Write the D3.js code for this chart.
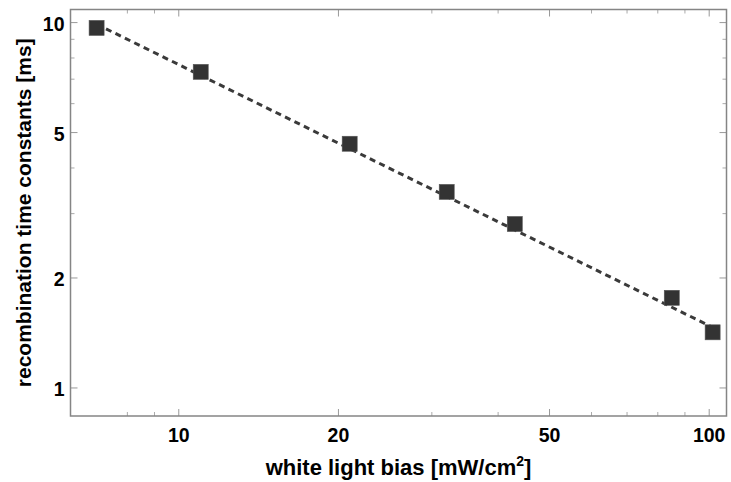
<!DOCTYPE html>
<html>
<head>
<meta charset="utf-8">
<script src="https://cdn.jsdelivr.net/npm/d3@7"></script>
<style>
  body { margin: 0; background: #fff; }
  text { font-family: "Liberation Sans", Arial, sans-serif; font-weight: bold; fill: #000; }
</style>
</head>
<body>
<div id="chart"></div>
<script>
// measured points (light bias in mW/cm2, time constant in ms)
var biasValues = [7, 11, 21, 32, 43, 85, 101.5];
var tauValues = [9.67, 7.33, 4.66, 3.44, 2.81, 1.765, 1.42];

// power-law fit, end points
var fitX = [7, 102];
var fitY = [9.9, 1.46];

var xMajorTicks = [10, 20, 50, 100];
var xMinorTicks = [8, 9, 30, 40, 60, 70, 80, 90];
var yMajorTicks = [1, 2, 5, 10];
var yMinorTicks = [3, 4, 6, 7, 8, 9];

var width = 731,
    height = 482;
var margin = { top: 9.5, right: 4.5, bottom: 66, left: 70.5 };
var plotW = width - margin.left - margin.right,
    plotH = height - margin.top - margin.bottom;

var svg = d3.select("#chart")
  .append("svg")
    .attr("width", width)
    .attr("height", height);

var x = d3.scaleLog()
  .domain([6.25, 107.8])
  .range([0, plotW]);
var y = d3.scaleLog()
  .domain([0.838, 10.86])
  .range([plotH, 0]);

var g = svg.append("g")
  .attr("transform", "translate(" + margin.left + "," + margin.top + ")");

var frameColor = "#858585";

// ticks, drawn inward on all four sides
function drawTicks(values, len, color) {
  values.forEach(function(v) {
    var px = x(v);
    g.append("line").attr("x1", px).attr("x2", px).attr("y1", plotH).attr("y2", plotH - len)
      .attr("stroke", color).attr("stroke-width", 1);
    g.append("line").attr("x1", px).attr("x2", px).attr("y1", 0).attr("y2", len)
      .attr("stroke", color).attr("stroke-width", 1);
  });
}
function drawYTicks(values, len, color) {
  values.forEach(function(v) {
    var py = y(v);
    g.append("line").attr("x1", 0).attr("x2", len).attr("y1", py).attr("y2", py)
      .attr("stroke", color).attr("stroke-width", 1);
    g.append("line").attr("x1", plotW).attr("x2", plotW - len).attr("y1", py).attr("y2", py)
      .attr("stroke", color).attr("stroke-width", 1);
  });
}
drawTicks(xMajorTicks, 7, "#999");
drawTicks(xMinorTicks, 4, "#aaa");
drawYTicks(yMajorTicks, 7, "#999");
drawYTicks(yMinorTicks, 4, "#aaa");

// frame
g.append("rect")
  .attr("width", plotW)
  .attr("height", plotH)
  .attr("fill", "none")
  .attr("stroke", frameColor)
  .attr("stroke-width", 1.5);

// tick labels
g.selectAll(".xlab")
  .data(xMajorTicks)
  .enter().append("text")
    .attr("x", function(d) { return x(d); })
    .attr("y", plotH + 26)
    .attr("text-anchor", "middle")
    .attr("font-size", "19.5px")
    .text(function(d) { return d; });

g.selectAll(".ylab")
  .data(yMajorTicks)
  .enter().append("text")
    .attr("x", -6)
    .attr("y", function(d) { return y(d) + 8; })
    .attr("text-anchor", "end")
    .attr("font-size", "19.5px")
    .text(function(d) { return d; });

// fit line
var fitData = fitX.map(function(v, i) { return [v, fitY[i]]; });
g.append("path")
  .datum(fitData)
  .attr("d", d3.line()
    .x(function(d) { return x(d[0]); })
    .y(function(d) { return y(d[1]); }))
  .attr("fill", "none")
  .attr("stroke", "#3a3a3a")
  .attr("stroke-width", 3)
  .attr("stroke-dasharray", "6,4.5");

// markers
var size = 15;
g.selectAll(".pt")
  .data(biasValues)
  .enter().append("rect")
    .attr("x", function(d) { return x(d) - size / 2; })
    .attr("y", function(d, i) { return y(tauValues[i]) - size / 2; })
    .attr("width", size)
    .attr("height", size)
    .attr("fill", "#333")
    .attr("stroke", "#555")
    .attr("stroke-width", 0.6);

// axis titles
var xTitle = svg.append("text")
  .attr("x", margin.left + plotW / 2)
  .attr("y", 475)
  .attr("text-anchor", "middle")
  .attr("font-size", "22px");
xTitle.append("tspan").text("white light bias [mW/cm");
xTitle.append("tspan").attr("font-size", "14px").attr("dy", -9).text("2");
xTitle.append("tspan").attr("dy", 9).text("]");

svg.append("text")
  .attr("transform", "translate(31," + (margin.top + plotH / 2) + ") rotate(-90)")
  .attr("text-anchor", "middle")
  .attr("font-size", "21px")
  .text("recombination time constants [ms]");
</script>
</body>
</html>
